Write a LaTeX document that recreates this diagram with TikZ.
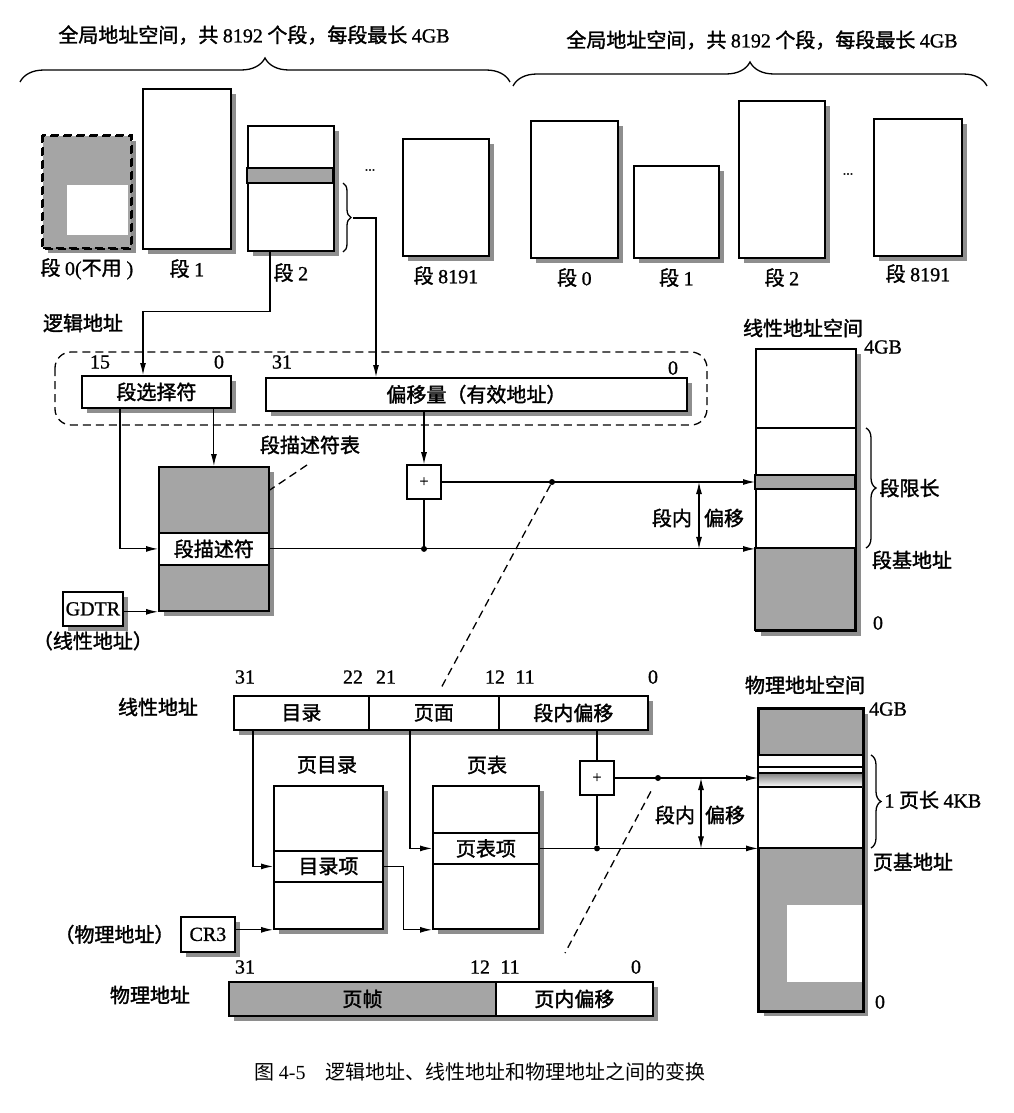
\documentclass[tikz,border=0pt]{standalone}
\usepackage{fontspec}
\setmainfont{Liberation Serif}
\newfontfamily\cjk[FakeBold=1.6]{Noto Sans CJK SC}
\newfontfamily\cjkcap{Noto Sans CJK SC}
\newfontfamily\lat[FakeBold=1]{Liberation Serif}
\usepackage{tikz}
\usetikzlibrary{arrows.meta,calc,decorations.pathreplacing,shadows}
\definecolor{shade}{HTML}{A5A5A5}
\definecolor{shadowgray}{HTML}{8E8E8E}
\newcommand{\ltn}[1]{{\lat #1}}

\tikzset{
  every node/.append style={font=\cjk\fontsize{20}{24}\selectfont},
  num/.style={font=\lat\fontsize{20}{24}\selectfont},
  box/.style={draw,line width=1.8pt,fill=white,inner sep=0pt,anchor=north west,
    drop shadow={shadow xshift=5pt,shadow yshift=-5pt,fill=shadowgray,opacity=1}},
  band/.style={draw,line width=1.8pt,fill=white,inner sep=0pt,anchor=north west},
  link/.style={line width=1.1pt,-{Latex[length=12pt,width=6pt]}},
  both/.style={line width=1.1pt,{Latex[length=12pt,width=6pt]}-{Latex[length=12pt,width=6pt]}},
  wire/.style={line width=1.1pt},
  guide/.style={line width=1.3pt,dash pattern=on 8pt off 5pt},
  dot/.style={circle,fill,inner sep=0pt,minimum size=6pt},
  curly/.style={decorate,decoration={brace,amplitude=#1},line width=1.3pt},
  adder/.style={draw,line width=1.6pt,fill=white,inner sep=0pt,minimum size=34pt,
    font=\lat\fontsize{16}{16}\selectfont}
}

\begin{document}
\begin{tikzpicture}[x=1pt,y=-1pt]
\useasboundingbox (0,0) rectangle (1013,1113);

% two global address spaces
\node (headL) at (254,35) {全局地址空间，共 \ltn{8192} 个段，每段最长 \ltn{4GB}};
\node (headR) at (762,40) {全局地址空间，共 \ltn{8192} 个段，每段最长 \ltn{4GB}};
\draw[curly=24pt] (20,82) -- (510,82);
\draw[curly=24pt] (513,86) -- (987,86);

\node[box,fill=shade,dash pattern=on 8pt off 5pt,minimum width=88,minimum height=112] (seg0L) at (42,135) {};
\fill[white] (67,185) rectangle (128,235);
\draw[line width=1.8pt,dash pattern=on 8pt off 5pt] (seg0L.north west) rectangle (seg0L.south east);
\node[box,minimum width=88,minimum height=160] (seg1L) at (142,88) {};
\node[box,minimum width=86,minimum height=125] (seg2L) at (247,125) {};
\draw[line width=1.8pt,fill=shade] (247,168) rectangle (333,183);
\node[box,minimum width=86,minimum height=117] (seg8191L) at (402,138) {};
\node (dotsL) at (370,170) {\lat\fontsize{14}{16}\selectfont ...};

\node[below=6pt] (lab0L) at (seg0L.south) {段 \ltn{0(}不用\ltn{ )}};
\node[below=6pt] (lab1L) at (seg1L.south) {段 \ltn{1}};
\node[below=8pt] (lab2L) at (seg2L.south) {段 \ltn{2}};
\node[below=6pt] (lab8191L) at (seg8191L.south) {段 \ltn{8191}};

\node[box,minimum width=87,minimum height=137] (seg0R) at (530,120) {};
\node[box,minimum width=85,minimum height=92] (seg1R) at (633,165) {};
\node[box,minimum width=86,minimum height=157] (seg2R) at (738,100) {};
\node[box,minimum width=88,minimum height=137] (seg8191R) at (873,118) {};
\node (dotsR) at (848,174) {\lat\fontsize{14}{16}\selectfont ...};

\node[below=6pt] (lab0R) at (seg0R.south) {段 \ltn{0}};
\node[below=6pt] (lab1R) at (seg1R.south) {段 \ltn{1}};
\node[below=6pt] (lab2R) at (seg2R.south) {段 \ltn{2}};
\node[below=4pt] (lab8191R) at (seg8191R.south) {段 \ltn{8191}};

% logical address
\node (logic) at (83,323) {逻辑地址};
\draw[guide,rounded corners=16pt] (55,352) rectangle (707,425);
\node[box,minimum width=149,minimum height=32] (sel) at (81,375) {段选择符};
\node[box,minimum width=421,minimum height=33] (off) at (265,377) {偏移量（有效地址）};
\node[num] (b15) at (100,362) {15};
\node[num] (b0a) at (219,362) {0};
\node[num] (b31a) at (282,362) {31};
\node[num] (b0b) at (673,368) {0};

\draw[curly=8pt] (343,183) -- (343,252);
\coordinate (tip2) at (353,218);
\draw[link] (tip2) -| ($(off.north west)+(111,0)$);
\draw[link] ($(seg2L.south west)+(23,0)$) -- ++(0,60) -| ($(sel.north west)+(62,0)$);

% descriptor table
\node[box,fill=shade,minimum width=110,minimum height=144] (gdt) at (158,466) {};
\node[band,minimum width=110,minimum height=32] (desc) at (158,532) {段描述符};
\node (gdtlab) at (310,445) {段描述符表};
\draw[guide] (307,465) -- (gdt.north east |- 0,490);
\node[box,minimum width=60,minimum height=34] (gdtr) at (62,591) {\lat GDTR};
\node[below=1pt] (gdtrlab) at (gdtr.south) {（线性地址）};

\draw[link] ($(sel.south west)+(39,0)$) |- (desc.west);
\draw[link] (sel.south -| gdt.north) -- (gdt.north);
\draw[link] (gdtr.east |- gdt.south) -- (gdt.south west);

% linear address space
\node (linlab) at (803,328) {线性地址空间};
\node[num] (lin4g) at (883,347) {4GB};
\node[box,minimum width=100,minimum height=282] (lin) at (755,348) {};
\draw[line width=1.8pt] (755,428) -- (855,428);
\draw[line width=1.8pt,fill=shade] (755,475) rectangle (855,489);
\draw[line width=1.8pt,fill=shade] (755,548) rectangle (855,630);
\draw[curly=10pt] (866,428) -- (866,548);
\node[anchor=west] (limit) at (876,488) {段限长};
\node (linbase) at (912,560) {段基地址};
\node[num] (lin0) at (878,623) {0};

\node[adder] (addA) at (424,482) {+};
\draw[link] (off.south -| addA.north) -- (addA.north);
\draw[link] (addA.east) -- (addA.east -| lin.west);
\draw[link] (desc.east) -- (desc.east -| lin.west);
\node[dot] (dA) at (addA.south |- desc.east) {};
\draw[wire] (addA.south) -- (dA);
\node[dot] (dB) at (552,482) {};
\coordinate (dashA) at (440,690);
\draw[guide] (dB) -- (dashA);
\coordinate (offA) at (699,482);
\draw[both] (offA) -- (offA |- desc.east);
\node (inA) at (672,518) {段内};
\node (shiftA) at (724,518) {偏移};

% paging
\node (linaddr) at (158,707) {线性地址};
\node[box,minimum width=135,minimum height=34] (dir) at (233,695) {目录};
\node[box,minimum width=130,minimum height=34] (page) at (368,695) {页面};
\node[box,minimum width=149,minimum height=34] (offs) at (498,695) {段内偏移};
\node[num] (b31b) at (245,677) {31};
\node[num] (b22) at (353,677) {22};
\node[num] (b21) at (386,677) {21};
\node[num] (b12a) at (495,677) {12};
\node[num] (b11a) at (525,677) {11};
\node[num] (b0c) at (653,677) {0};

\node (pdirlab) at (327,765) {页目录};
\node (ptablab) at (487,765) {页表};
\node[box,minimum width=109,minimum height=143] (pdir) at (273,785) {};
\node[band,minimum width=109,minimum height=31] (pde) at (273,850) {目录项};
\node[box,minimum width=106,minimum height=143] (ptab) at (432,785) {};
\node[band,minimum width=106,minimum height=31] (pte) at (432,832) {页表项};

\draw[link] ($(dir.south west)+(20,0)$) |- (pde.west);
\draw[link] ($(page.south west)+(42,0)$) |- (pte.west);
\draw[link] (pde.east) -- ++(20,0) |- (ptab.south west);

\node[box,minimum width=54,minimum height=35] (cr3) at (180,916) {\lat CR3};
\node[left=2pt] (cr3lab) at (cr3.west) {（物理地址）};
\draw[link] (cr3.east |- pdir.south) -- (pdir.south west);

% physical address
\node (physaddr) at (150,995) {物理地址};
\node[box,fill=shade,minimum width=267,minimum height=34] (frame) at (228,981) {页帧};
\node[box,minimum width=157,minimum height=34] (poff) at (495,981) {页内偏移};
\node[num] (b31c) at (245,967) {31};
\node[num] (b12b) at (480,967) {12};
\node[num] (b11b) at (510,967) {11};
\node[num] (b0d) at (636,967) {0};

% physical address space
\node (phylab) at (805,685) {物理地址空间};
\node[num] (phy4g) at (888,709) {4GB};
\node[box,fill=shade,minimum width=104,minimum height=302] (phy) at (758,708) {};
\fill[white] (758,755) rectangle (862,848);
\fill[shade] (758,773) rectangle (862,787);
\fill[white] (787,905) rectangle (862,982);
\foreach \y in {755,767,773,787,848}
  \draw[line width=1.8pt] (758,\y) -- (862,\y);
\draw[line width=1.8pt] (phy.north west) rectangle (phy.south east);
\draw[curly=10pt] (871,755) -- (871,848);
\node[anchor=west] (pagelen) at (881,800) {\ltn{1} 页长 \ltn{4KB}};
\node (phybase) at (913,862) {页基地址};
\node[num] (phy0) at (880,1002) {0};

\node[adder] (addB) at (597,778) {+};
\draw[wire] (offs.south -| addB.north) -- (addB.north);
\draw[link] (addB.east) -- (addB.east -| phy.west);
\draw[link] (pte.east) -- (pte.east -| phy.west);
\node[dot] (dC) at (addB.south |- pte.east) {};
\draw[wire] (addB.south) -- (dC);
\node[dot] (dD) at (658,778) {};
\coordinate (dashB) at (565,953);
\draw[guide,shorten <=12pt] (dD) -- (dashB);
\coordinate (offB) at (701,778);
\draw[both] (offB) -- (offB |- pte.east);
\node (inB) at (675,815) {段内};
\node (shiftB) at (725,815) {偏移};

% caption
\node (caption) at (480,1072) {\cjkcap 图 {\setmainfont{Liberation Serif}\rmfamily 4-5}\quad 逻辑地址、线性地址和物理地址之间的变换};
\end{tikzpicture}
\end{document}
